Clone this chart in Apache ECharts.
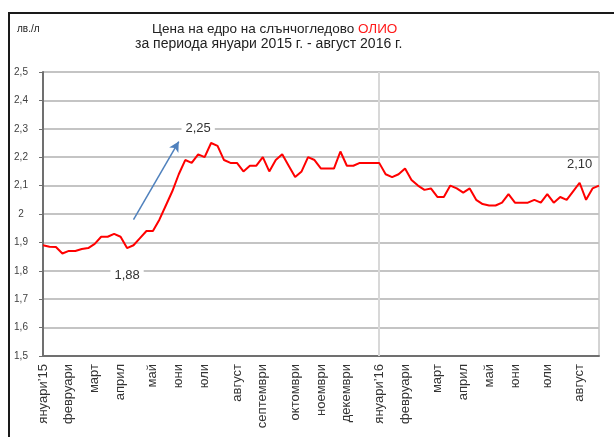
<!DOCTYPE html>
<html>
<head>
<meta charset="utf-8">
<script src="https://cdn.jsdelivr.net/npm/echarts@6/dist/echarts.min.js"></script>
<style>
  html, body { margin: 0; padding: 0; background: #fff; }
  #chart { width: 614px; height: 437px; }
</style>
</head>
<body>
<div id="chart"></div>
<script>
// weekly wholesale price, Jan 2015 - Aug 2016 (лв./л)
const price = [
  1.89, 1.885, 1.884, 1.861, 1.87, 1.87, 1.877, 1.88, 1.895, 1.92,
  1.92, 1.93, 1.92, 1.88, 1.89, 1.915, 1.94, 1.94, 1.98, 2.03,
  2.08, 2.14, 2.19, 2.18, 2.21, 2.20, 2.25, 2.24, 2.19, 2.18,
  2.18, 2.15, 2.17, 2.17, 2.20, 2.15, 2.19, 2.21, 2.17, 2.13,
  2.15, 2.20, 2.19, 2.16, 2.16, 2.16, 2.22, 2.17, 2.17, 2.18,
  2.18, 2.18, 2.18, 2.14, 2.13, 2.14, 2.16, 2.12, 2.10, 2.085,
  2.09, 2.06, 2.06, 2.10, 2.09, 2.075, 2.09, 2.05, 2.035, 2.03,
  2.03, 2.04, 2.07, 2.04, 2.04, 2.04, 2.05, 2.04, 2.07, 2.04,
  2.06, 2.05, 2.08, 2.11, 2.05, 2.09, 2.10
];
const monthNames = [
  'януари’15', 'февруари', 'март', 'април', 'май', 'юни', 'юли', 'август',
  'септември', 'октомври', 'ноември', 'декември', 'януари’16', 'февруари',
  'март', 'април', 'май', 'юни', 'юли', 'август'
];
// week index where each month label sits
const monthStart = [0, 4, 8, 12, 17, 21, 25, 30, 34, 39, 43, 47, 52, 56, 61, 65, 69, 73, 78, 83];

const weeks = price.map((_, i) => {
  const k = monthStart.indexOf(i);
  return k >= 0 ? monthNames[k] : '';
});

const font = 'Liberation Sans, Arial, sans-serif';
const fmt = v => String(+v.toFixed(1)).replace('.', ',');

const chart = echarts.init(document.getElementById('chart'));

chart.setOption({
  animation: false,
  backgroundColor: '#fff',
  textStyle: { fontFamily: font },
  title: [
    {
      text: '{a|Цена на едро на слънчогледово }{b|ОЛИО}',
      left: 147,
      top: 17,
      textStyle: {
        rich: {
          a: { fontSize: 13.5, color: '#222', fontWeight: 'normal', fontFamily: font },
          b: { fontSize: 13.5, color: '#ff1a1a', fontWeight: 'normal', fontFamily: font }
        }
      }
    },
    {
      text: 'за периода януари 2015 г. - август 2016 г.',
      left: 130,
      top: 32,
      textStyle: { fontSize: 14, color: '#222', fontWeight: 'normal', fontFamily: font }
    },
    {
      text: 'лв./л',
      left: 12,
      top: 19,
      textStyle: { fontSize: 10, color: '#222', fontWeight: 'normal', fontFamily: font }
    }
  ],
  graphic: [
    {
      type: 'rect',
      shape: { x: 9, y: 13, width: 700, height: 500 },
      style: { fill: 'none', stroke: '#1a1a1a', lineWidth: 2 },
      silent: true
    }
  ],
  grid: {
    left: 43,
    top: 72,
    right: 15,
    bottom: 81,
    show: true,
    borderColor: '#a8a8a8',
    borderWidth: 1
  },
  xAxis: {
    type: 'category',
    boundaryGap: false,
    data: weeks,
    axisLine: { lineStyle: { color: '#707070', width: 2 } },
    axisTick: { show: false },
    axisLabel: {
      interval: 0,
      rotate: 90,
      margin: 8,
      fontSize: 13,
      color: '#333',
      fontFamily: font
    },
    splitLine: { show: false }
  },
  yAxis: {
    type: 'value',
    min: 1.5,
    max: 2.5,
    interval: 0.1,
    axisLine: { show: true, lineStyle: { color: '#707070', width: 2 } },
    axisTick: { show: true, length: 4, lineStyle: { color: '#707070' } },
    axisLabel: {
      formatter: fmt,
      align: 'center',
      margin: 22,
      fontSize: 10,
      color: '#404040',
      fontFamily: font
    },
    splitLine: { lineStyle: { color: '#c4c4c4', width: 2 } }
  },
  series: [
    {
      type: 'line',
      data: price,
      showSymbol: false,
      lineStyle: { color: '#ff0000', width: 2 },
      itemStyle: { color: '#ff0000' },
      z: 5,
      markLine: {
        silent: true,
        symbol: ['none', 'none'],
        label: { show: false },
        emphasis: { disabled: true },
        data: [
          { xAxis: 52, lineStyle: { color: '#d8d8d8', width: 2, type: 'solid' } },
          [
            { coord: [14, 1.98], symbol: 'none', lineStyle: { color: '#4f81bd', width: 1.5, type: 'solid' } },
            { coord: [21, 2.255], symbol: 'arrow', symbolSize: [8, 10], lineStyle: { color: '#4f81bd', width: 1.5, type: 'solid' } }
          ]
        ]
      },
      markPoint: {
        silent: true,
        symbol: 'rect',
        symbolSize: 0,
        label: {
          show: true,
          position: 'inside',
          fontSize: 13,
          color: '#333',
          backgroundColor: '#fff',
          padding: [1, 4],
          fontFamily: font,
          formatter: p => p.name
        },
        data: [
          { name: '2,25', coord: [24, 2.3] },
          { name: '1,88', coord: [13, 1.785] },
          { name: '2,10', coord: [83, 2.175], label: { backgroundColor: 'transparent' } }
        ]
      }
    }
  ]
});
</script>
</body>
</html>
